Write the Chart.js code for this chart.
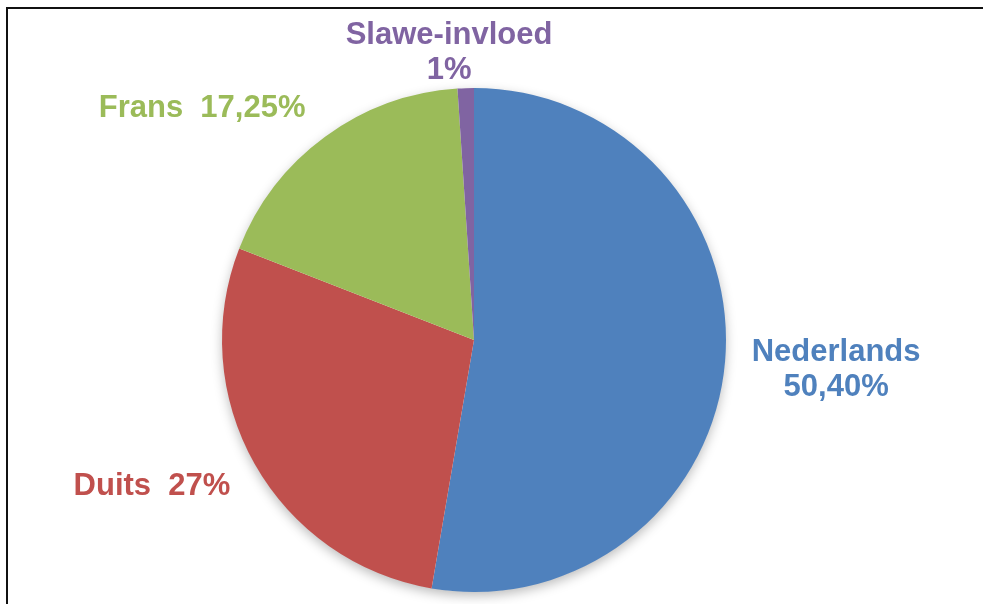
<!DOCTYPE html>
<html>
<head>
<meta charset="utf-8">
<script src="https://cdn.jsdelivr.net/npm/chart.js@4.4.1/dist/chart.umd.min.js"></script>
<style>
  html, body { margin: 0; padding: 0; background: #fff; }
  #wrap { position: relative; width: 983px; height: 604px; overflow: hidden; }
  #frame { position: absolute; left: 6px; top: 7px; right: -10px; bottom: -10px;
           border-left: 2px solid #111; border-top: 2px solid #111; pointer-events: none; }
  canvas { position: absolute; left: 0; top: 0; }
</style>
</head>
<body>
<div id="wrap">
  <canvas id="c" width="983" height="604"></canvas>
  <div id="frame"></div>
</div>
<script>
// ---- data ----
const categories = ['Nederlands', 'Duits', 'Frans', 'Slawe-invloed'];
const values = [50.40, 27, 17.25, 1];
const valueLabels = ['50,40%', '27%', '17,25%', '1%'];
const colors = ['#4F81BD', '#C0504D', '#9BBB59', '#8064A2'];

// ---- label layout (in units of pie radius, relative to pie centre) ----
const labelLayout = [
  { dx: 1.437, dy: 0.083, twoLines: true },
  { dx: -1.278, dy: 0.615, twoLines: false },
  { dx: -1.079, dy: -0.885, twoLines: false },
  { dx: -0.099, dy: -1.175, twoLines: true }
];

const shadowPlugin = {
  id: 'pieShadow',
  beforeDatasetsDraw(chart) {
    const arc = chart.getDatasetMeta(0).data[0];
    if (!arc) return;
    const ctx = chart.ctx;
    ctx.save();
    ctx.shadowColor = 'rgba(0,0,0,0.28)';
    ctx.shadowBlur = 12;
    ctx.shadowOffsetX = 0;
    ctx.shadowOffsetY = 4;
    ctx.fillStyle = '#ffffff';
    ctx.beginPath();
    ctx.arc(arc.x, arc.y, arc.outerRadius - 0.5, 0, Math.PI * 2);
    ctx.fill();
    ctx.restore();
  }
};

const labelPlugin = {
  id: 'outLabels',
  afterDatasetsDraw(chart) {
    const meta = chart.getDatasetMeta(0);
    const ctx = chart.ctx;
    ctx.save();
    ctx.font = 'bold 31px "Liberation Sans", Arial, sans-serif';
    ctx.textAlign = 'center';
    ctx.textBaseline = 'alphabetic';
    meta.data.forEach((arc, i) => {
      const lay = labelLayout[i];
      const r = arc.outerRadius;
      const x = arc.x + lay.dx * r;
      const y = arc.y + lay.dy * r;
      ctx.fillStyle = colors[i];
      if (lay.twoLines) {
        ctx.fillText(categories[i], x, y);
        ctx.fillText(valueLabels[i], x, y + 35);
      } else {
        ctx.fillText(categories[i] + '\u00a0\u00a0' + valueLabels[i], x, y);
      }
    });
    ctx.restore();
  }
};

new Chart(document.getElementById('c'), {
  type: 'pie',
  data: {
    labels: categories,
    datasets: [{
      data: values,
      backgroundColor: colors,
      borderWidth: 0,
      hoverOffset: 0,
      offset: 0
    }]
  },
  options: {
    responsive: false,
    animation: false,
    events: [],
    layout: { padding: { top: 88, bottom: 12, left: 0, right: 35 } },
    plugins: {
      legend: { display: false },
      tooltip: { enabled: false },
      title: { display: false }
    }
  },
  plugins: [shadowPlugin, labelPlugin]
});
</script>
</body>
</html>
